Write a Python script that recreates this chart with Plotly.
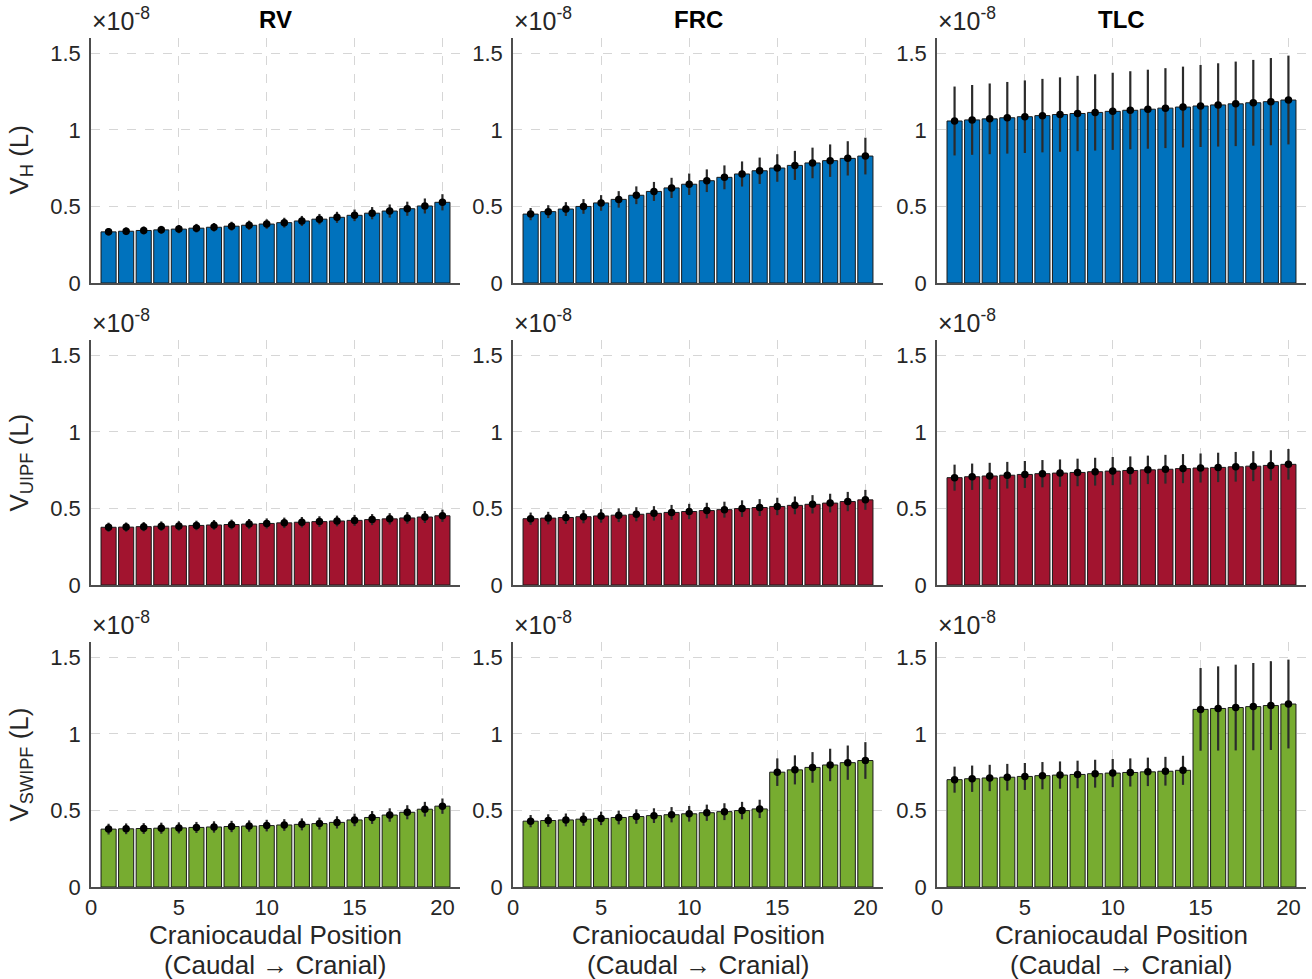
import plotly.graph_objects as go

# ---------------- data (values in units of 1e-8 L) ----------------
positions = list(range(1, 21))
col_titles = ["RV", "FRC", "TLC"]
row_labels = ["V<sub>H</sub> (L)", "V<sub>UIPF</sub> (L)", "V<sub>SWIPF</sub> (L)"]
x_ticks = [0, 5, 10, 15, 20]
y_ticks = [0, 0.5, 1, 1.5]
y_ticklabels = ["0", "0.5", "1", "1.5"]

H_RV = [0.334, 0.338, 0.343, 0.347, 0.352, 0.358, 0.364, 0.371, 0.377, 0.385,
        0.394, 0.405, 0.417, 0.429, 0.442, 0.456, 0.470, 0.485, 0.503, 0.527]
H_RV_err = [0.025, 0.025, 0.026, 0.026, 0.027, 0.028, 0.028, 0.029, 0.030, 0.031,
            0.032, 0.033, 0.034, 0.036, 0.038, 0.040, 0.043, 0.046, 0.049, 0.053]
H_FRC = [0.450, 0.466, 0.483, 0.500, 0.523, 0.546, 0.573, 0.598, 0.621, 0.645,
         0.668, 0.690, 0.712, 0.733, 0.751, 0.768, 0.784, 0.799, 0.814, 0.829]
H_FRC_err = [0.040, 0.042, 0.045, 0.048, 0.051, 0.054, 0.058, 0.062, 0.066, 0.070,
             0.074, 0.078, 0.082, 0.086, 0.090, 0.095, 0.100, 0.106, 0.112, 0.120]
H_TLC = [1.058, 1.065, 1.072, 1.079, 1.086, 1.093, 1.100, 1.107, 1.114, 1.121,
         1.128, 1.135, 1.142, 1.149, 1.156, 1.163, 1.170, 1.177, 1.184, 1.195]
H_TLC_err = [0.225, 0.228, 0.231, 0.234, 0.237, 0.240, 0.243, 0.246, 0.249, 0.252,
             0.255, 0.258, 0.261, 0.264, 0.268, 0.272, 0.276, 0.280, 0.285, 0.290]

UIPF_RV = [0.377, 0.378, 0.381, 0.384, 0.386, 0.389, 0.392, 0.395, 0.398, 0.402,
           0.406, 0.410, 0.414, 0.418, 0.422, 0.427, 0.432, 0.438, 0.444, 0.452]
UIPF_RV_err = [0.030, 0.030, 0.030, 0.031, 0.031, 0.031, 0.032, 0.032, 0.033, 0.033,
               0.034, 0.034, 0.035, 0.035, 0.036, 0.036, 0.037, 0.038, 0.039, 0.040]
UIPF_FRC = [0.433, 0.437, 0.441, 0.446, 0.451, 0.456, 0.462, 0.468, 0.474, 0.480,
            0.486, 0.492, 0.499, 0.506, 0.513, 0.520, 0.527, 0.535, 0.545, 0.556]
UIPF_FRC_err = [0.040, 0.041, 0.042, 0.043, 0.044, 0.045, 0.046, 0.047, 0.049, 0.050,
                0.051, 0.052, 0.054, 0.055, 0.057, 0.058, 0.060, 0.061, 0.063, 0.065]
UIPF_TLC = [0.701, 0.707, 0.712, 0.717, 0.722, 0.727, 0.731, 0.735, 0.740, 0.744,
            0.748, 0.752, 0.756, 0.760, 0.764, 0.768, 0.772, 0.776, 0.781, 0.788]
UIPF_TLC_err = [0.085, 0.086, 0.086, 0.087, 0.088, 0.089, 0.089, 0.090, 0.091, 0.092,
                0.092, 0.093, 0.094, 0.095, 0.095, 0.096, 0.097, 0.098, 0.099, 0.100]

SWIPF_RV = [0.378, 0.380, 0.382, 0.384, 0.386, 0.389, 0.392, 0.395, 0.398, 0.401,
            0.405, 0.409, 0.414, 0.422, 0.438, 0.454, 0.470, 0.488, 0.508, 0.528]
SWIPF_RV_err = [0.035, 0.035, 0.035, 0.036, 0.036, 0.036, 0.037, 0.037, 0.037, 0.038,
                0.038, 0.039, 0.039, 0.040, 0.041, 0.042, 0.044, 0.046, 0.048, 0.050]
SWIPF_FRC = [0.430, 0.434, 0.438, 0.443, 0.448, 0.454, 0.460, 0.466, 0.472, 0.478,
             0.485, 0.492, 0.499, 0.510, 0.750, 0.765, 0.781, 0.797, 0.812, 0.826]
SWIPF_FRC_err = [0.040, 0.041, 0.042, 0.043, 0.044, 0.045, 0.047, 0.048, 0.050, 0.051,
                 0.053, 0.055, 0.057, 0.060, 0.090, 0.095, 0.100, 0.106, 0.112, 0.120]
SWIPF_TLC = [0.701, 0.707, 0.712, 0.717, 0.722, 0.727, 0.731, 0.735, 0.740, 0.744,
             0.748, 0.752, 0.756, 0.762, 1.160, 1.166, 1.172, 1.178, 1.185, 1.195]
SWIPF_TLC_err = [0.085, 0.086, 0.086, 0.087, 0.088, 0.089, 0.089, 0.090, 0.091, 0.092,
                 0.092, 0.093, 0.094, 0.095, 0.270, 0.275, 0.280, 0.285, 0.290, 0.290]

grid_values = [
    [(H_RV, H_RV_err), (H_FRC, H_FRC_err), (H_TLC, H_TLC_err)],
    [(UIPF_RV, UIPF_RV_err), (UIPF_FRC, UIPF_FRC_err), (UIPF_TLC, UIPF_TLC_err)],
    [(SWIPF_RV, SWIPF_RV_err), (SWIPF_FRC, SWIPF_FRC_err), (SWIPF_TLC, SWIPF_TLC_err)],
]
row_colors = ["#0072BD", "#A2142F", "#77AC30"]

# ---------------- layout geometry ----------------
W, H = 1312, 979
col_px = [(91, 460), (513, 883), (937, 1306)]
row_px = [(38, 283), (340, 585), (642, 887)]   # (top, bottom) in pixels
FONT = "Liberation Sans, Arial, Helvetica, sans-serif"
TICK_SIZE = 22
LABEL_SIZE = 26

fig = go.Figure()
layout = dict(
    template="none",
    width=W, height=H, margin=dict(l=0, r=0, t=0, b=0, pad=0, autoexpand=False),
    paper_bgcolor="white", plot_bgcolor="white", showlegend=False,
    font=dict(family=FONT, color="#262626"),
)
annotations = []

for r in range(3):
    for c in range(3):
        idx = r * 3 + c + 1
        xname = "x" if idx == 1 else f"x{idx}"
        yname = "y" if idx == 1 else f"y{idx}"
        vals, errs = grid_values[r][c]
        fig.add_trace(go.Bar(
            x=positions, y=vals, xaxis=xname, yaxis=yname,
            marker=dict(color=row_colors[r], line=dict(color="#1a1a1a", width=1)),
            error_y=dict(type="data", array=errs, color="#2b2b2b", thickness=2.2, width=0),
            width=0.86, hoverinfo="skip",
        ))
        fig.add_trace(go.Scatter(
            x=positions, y=vals, xaxis=xname, yaxis=yname, mode="markers",
            marker=dict(color="black", size=7.5), hoverinfo="skip",
        ))
        x0, x1 = col_px[c]
        t, b = row_px[r]
        xa = dict(
            domain=[x0 / W, x1 / W], anchor=yname, range=[0, 21],
            tickvals=x_ticks, showticklabels=(r == 2), automargin=False,
            tickfont=dict(size=TICK_SIZE, color="#262626", family=FONT),
            showgrid=True, gridcolor="#d6d6d6", griddash="dash", gridwidth=1,
            zeroline=False, showline=True, linecolor="#4d4d4d", linewidth=1.5,
            ticks="", fixedrange=True,
        )
        ya = dict(
            domain=[1 - b / H, 1 - t / H], anchor=xname, range=[0, 1.6],
            tickvals=y_ticks, ticktext=y_ticklabels, automargin=False,
            tickfont=dict(size=TICK_SIZE, color="#262626", family=FONT),
            showgrid=True, gridcolor="#d6d6d6", griddash="dash", gridwidth=1,
            zeroline=False, showline=True, linecolor="#4d4d4d", linewidth=1.5,
            ticks="", ticklabelstandoff=4, fixedrange=True,
        )
        layout["xaxis" if idx == 1 else f"xaxis{idx}"] = xa
        layout["yaxis" if idx == 1 else f"yaxis{idx}"] = ya

        annotations.append(dict(
            xref="paper", yref="paper", x=(x0 - 1) / W, y=1 - (t - 1) / H,
            xanchor="left", yanchor="bottom", showarrow=False,
            text="×10<sup>-8</sup>", font=dict(size=25, color="#262626", family=FONT),
        ))

for c in range(3):
    x0, x1 = col_px[c]
    annotations.append(dict(
        xref="paper", yref="paper", x=(x0 + x1) / 2 / W, y=1 - 20 / H,
        xanchor="center", yanchor="middle", showarrow=False,
        text=f"<b>{col_titles[c]}</b>", font=dict(size=24, color="black", family=FONT),
    ))
    annotations.append(dict(
        xref="paper", yref="paper", x=(x0 + x1) / 2 / W, y=1 - 935 / H,
        xanchor="center", yanchor="middle", showarrow=False,
        text="Craniocaudal Position", font=dict(size=LABEL_SIZE, color="#262626", family=FONT),
    ))
    annotations.append(dict(
        xref="paper", yref="paper", x=(x0 + x1) / 2 / W, y=1 - 965 / H,
        xanchor="center", yanchor="middle", showarrow=False,
        text="(Caudal → Cranial)", font=dict(size=LABEL_SIZE, color="#262626", family=FONT),
    ))

for r in range(3):
    t, b = row_px[r]
    annotations.append(dict(
        xref="paper", yref="paper", x=20 / W, y=1 - (t + b) / 2 / H,
        xanchor="center", yanchor="middle", showarrow=False, textangle=-90,
        text=row_labels[r], font=dict(size=LABEL_SIZE, color="#262626", family=FONT),
    ))

layout["annotations"] = annotations
fig.update_layout(**layout)
fig.write_html(
    "out.html",
    config={"displayModeBar": False},
    post_script="document.body.style.margin='0';",
)
